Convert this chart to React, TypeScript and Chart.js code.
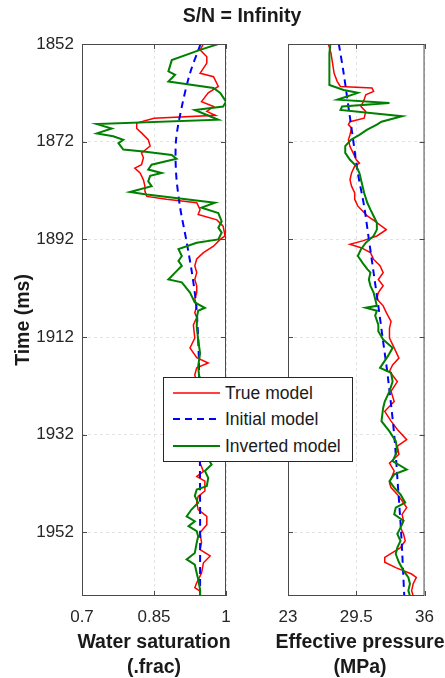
import React, { useEffect, useRef } from "react";
import { Chart, registerables } from "chart.js";

Chart.register(...registerables);

// ---------- labels ----------
const TITLE = "S/N = Infinity";
const Y_TITLE = "Time (ms)";
const SAT_TITLE = ["Water saturation", "(.frac)"];
const PRES_TITLE = ["Effective pressure", "(MPa)"];
const LEGEND_LABELS = ["True model", "Initial model", "Inverted model"];

// ---------- axes ----------
const TIME_MIN = 1852;
const TIME_MAX = 1965;
const TIME_TICKS = [1852, 1872, 1892, 1912, 1932, 1952];
const SAT_MIN = 0.7;
const SAT_MAX = 1;
const SAT_TICKS = [0.7, 0.85, 1];
const PRES_MIN = 23;
const PRES_MAX = 36;
const PRES_TICKS = [23, 29.5, 36];

// ---------- data: [time (ms), value] ----------
const SAT_TRUE: [number, number][] = [
  [1852, 0.953], [1853.2, 0.946], [1854.6, 0.96], [1855.9, 0.96], [1858, 0.946], [1858.7, 0.974],
  [1860.7, 0.984], [1862, 0.963], [1863.8, 0.949], [1864.8, 0.974], [1865.8, 0.96], [1866.6, 0.978],
  [1867.2, 0.85], [1868.2, 0.814], [1869.3, 0.814], [1870.2, 0.824], [1871.6, 0.838], [1872.9, 0.842],
  [1874.3, 0.824], [1875.3, 0.828], [1876.7, 0.824], [1877.4, 0.81], [1878.4, 0.821], [1879.8, 0.828],
  [1881.1, 0.831], [1882.1, 0.831], [1883.2, 0.835], [1883.8, 0.876], [1884.5, 0.939], [1885.9, 0.946],
  [1886.9, 0.942], [1888, 0.981], [1889.3, 0.994], [1891.3, 0.998], [1892, 0.988], [1893.4, 0.974],
  [1894.7, 0.953], [1896, 0.939], [1897.4, 0.935], [1898.8, 0.939], [1900.2, 0.935], [1901.5, 0.939],
  [1902.9, 0.939], [1904.2, 0.935], [1905.6, 0.939], [1907, 0.935], [1908, 0.939], [1909.5, 0.932],
  [1912.2, 0.935], [1914.2, 0.925], [1916.2, 0.939], [1917.3, 0.963], [1918.3, 0.939], [1919.7, 0.935],
  [1922, 0.94], [1925, 0.945], [1928, 0.94], [1931, 0.95], [1934, 0.945], [1936, 0.948],
  [1937.8, 0.946], [1939.5, 0.953], [1940.5, 0.939], [1941.5, 0.956], [1943.5, 0.956], [1944.6, 0.942],
  [1945.9, 0.939], [1947.3, 0.942], [1948.7, 0.96], [1950.4, 0.96], [1952, 0.946], [1954.1, 0.949],
  [1955.5, 0.946], [1956.8, 0.967], [1958.2, 0.953], [1960.3, 0.949], [1962.3, 0.939], [1963.3, 0.935],
  [1964, 0.946], [1965, 0.946],
];

const SAT_INIT: [number, number][] = [
  [1852, 0.947], [1858, 0.925], [1864.8, 0.908], [1871.6, 0.896], [1878.4, 0.896], [1885.2, 0.904],
  [1892, 0.917], [1898.8, 0.929], [1905.6, 0.938], [1915, 0.943], [1930, 0.945], [1945, 0.946],
  [1965, 0.946],
];

const SAT_INV: [number, number][] = [
  [1852, 0.984], [1853.2, 0.946], [1855.3, 0.887], [1857.6, 0.88], [1858.3, 0.894], [1859.7, 0.88],
  [1861, 0.974], [1862, 0.988], [1863.8, 1.0], [1864.8, 0.994], [1865.5, 0.935], [1867.5, 0.984],
  [1868.4, 0.731], [1869.3, 0.762], [1870.3, 0.731], [1870.9, 0.765], [1871.6, 0.786], [1872.3, 0.776],
  [1873.6, 0.786], [1874, 0.828], [1874.7, 0.887], [1875.5, 0.897], [1876.7, 0.845], [1877.7, 0.838],
  [1878.4, 0.866], [1879, 0.842], [1880.1, 0.838], [1881.1, 0.845], [1882.3, 0.8], [1882.8, 0.835],
  [1884.5, 0.977], [1885.5, 0.949], [1886.6, 0.984], [1888.3, 0.991], [1889.6, 0.984], [1890.6, 0.991],
  [1892, 0.984], [1892.7, 0.939], [1894, 0.901], [1895.4, 0.908], [1896.4, 0.901], [1897.4, 0.908],
  [1898.5, 0.897], [1900.2, 0.88], [1900.8, 0.908], [1902.9, 0.925], [1904.9, 0.935], [1906, 0.956],
  [1906.6, 0.942], [1907.6, 0.94], [1909.8, 0.939], [1912.5, 0.942], [1915.3, 0.946], [1918, 0.942],
  [1920, 0.944], [1923, 0.945], [1926, 0.942], [1929, 0.948], [1932, 0.944], [1935, 0.95],
  [1936.8, 0.962], [1938.1, 0.97], [1939.4, 0.956], [1940.8, 0.963], [1942.5, 0.96], [1943.2, 0.939],
  [1944.5, 0.935], [1945.9, 0.942], [1947.3, 0.928], [1948.7, 0.918], [1949.7, 0.935], [1950.7, 0.922],
  [1951.7, 0.939], [1952.8, 0.942], [1954.1, 0.939], [1956.2, 0.935], [1957.5, 0.918], [1958.6, 0.935],
  [1960.3, 0.939], [1961.6, 0.942], [1963.7, 0.946], [1965, 0.946],
];

const PRES_TRUE: [number, number][] = [
  [1852, 26.85], [1853.9, 27.09], [1855.9, 27.24], [1858, 27.39], [1859.7, 27.69], [1860.7, 27.99],
  [1861, 31.0], [1861.7, 31.15], [1862.4, 30.4], [1863.4, 30.25], [1864.8, 29.95], [1865.8, 30.4],
  [1867.2, 30.25], [1867.9, 28.9], [1868.5, 28.75], [1869.2, 29.05], [1870.6, 28.9], [1871.6, 28.75],
  [1873, 28.9], [1874.3, 29.2], [1875.7, 29.5], [1876.4, 29.8], [1877, 29.35], [1878.4, 29.05],
  [1879.8, 28.9], [1881.1, 29.05], [1882.5, 29.35], [1883.8, 29.35], [1885.2, 29.65], [1886.2, 30.1],
  [1887.2, 30.55], [1888.3, 31.3], [1890, 32.36], [1891.3, 31.46], [1892.3, 30.1], [1893, 28.9],
  [1893.7, 29.95], [1894.7, 30.85], [1896.1, 31.15], [1897.4, 31.76], [1898.8, 32.06], [1900.2, 31.6],
  [1901.5, 32.06], [1902.9, 31.6], [1904.2, 31.46], [1905.6, 32.06], [1907, 32.36], [1908.8, 32.81],
  [1910.2, 32.66], [1912.2, 32.66], [1914.2, 33.11], [1916.3, 33.56], [1917.7, 32.96], [1919, 32.66],
  [1921.1, 33.41], [1923.1, 32.81], [1925.2, 33.11], [1927.2, 32.21], [1929.2, 32.81], [1930.9, 33.41],
  [1933, 34.3], [1934.3, 33.41], [1936, 33.56], [1937.8, 32.66], [1939.4, 33.11], [1941.8, 32.66],
  [1942.8, 32.81], [1944.2, 33.41], [1945.5, 33.86], [1946.9, 34.3], [1948.3, 33.86], [1949.6, 34.0],
  [1951, 33.71], [1952.3, 34.0], [1953.7, 34.16], [1955.1, 33.71], [1957.1, 32.21], [1958.1, 32.21],
  [1959.2, 33.26], [1960.5, 34.77], [1961.2, 35.22], [1962.5, 34.92], [1963.9, 34.77], [1965, 34.92],
];

const PRES_INIT: [number, number][] = [
  [1852, 27.84], [1858, 28.3], [1864.8, 28.75], [1871.6, 29.2], [1878.4, 29.65], [1885.2, 30.25],
  [1892, 30.7], [1898.8, 31.15], [1905.6, 31.6], [1912, 32.0], [1920, 32.5], [1932, 33.11],
  [1942, 33.45], [1952, 33.77], [1965, 34.07],
];

const PRES_INV: [number, number][] = [
  [1852, 27.03], [1853.9, 26.94], [1856, 26.94], [1858, 26.94], [1860.4, 26.94], [1861.4, 28.3],
  [1862, 29.65], [1863.4, 27.7], [1864.1, 32.66], [1864.8, 28.15], [1865.5, 28.0], [1866.8, 33.86],
  [1867.9, 31.9], [1868.5, 31.46], [1869.6, 30.5], [1870.6, 29.8], [1871.6, 29.0], [1872.9, 28.45],
  [1874.3, 28.45], [1875.7, 28.9], [1877, 29.5], [1878.4, 29.8], [1879.8, 29.95], [1881.1, 30.1],
  [1882.5, 30.25], [1884.5, 30.55], [1885.9, 30.85], [1887.2, 31.15], [1888.6, 31.46], [1890, 31.46],
  [1891.3, 31.15], [1892.7, 30.4], [1894, 29.95], [1895.4, 29.65], [1896.8, 30.1], [1898.1, 30.55],
  [1898.8, 30.85], [1900.2, 30.7], [1901.5, 30.85], [1902.9, 31.15], [1904.2, 31.3], [1905.6, 31.46],
  [1906, 30.4], [1906.6, 31.46], [1907.6, 31.3], [1909.5, 31.6], [1910.8, 31.6], [1912.5, 32.06],
  [1914.2, 32.96], [1915.9, 32.51], [1918.3, 31.76], [1919.3, 32.81], [1921.1, 32.96], [1923.1, 32.66],
  [1925.2, 32.21], [1926.5, 32.06], [1929.2, 31.9], [1931.3, 32.66], [1933.3, 33.26], [1935.3, 33.41],
  [1937.4, 32.96], [1939.1, 34.3], [1940.1, 33.11], [1941.5, 32.66], [1942.8, 33.11], [1944.2, 33.71],
  [1945.9, 34.16], [1946.9, 33.26], [1948.3, 33.11], [1949.6, 34.0], [1951, 33.71], [1952.3, 33.41],
  [1953.7, 33.71], [1955.1, 33.41], [1956.4, 33.26], [1958.1, 33.56], [1959.8, 34.0], [1961.2, 34.46],
  [1962.5, 34.61], [1963.9, 34.46], [1965, 34.61],
];

// ---------- styles ----------
const FONT = '"Liberation Sans", Arial, Helvetica, sans-serif';
const RED = "#ff0000";
const BLUE = "#0000ff";
const GREEN = "#008000";
const TEXT = "#262626";
const FRAME = "#4a4a4a";
const GRID = "#e2e2e2";
const W = 445;
const H = 678;

const toPoints = (pairs: [number, number][]) => pairs.map(([t, v]) => ({ x: v, y: t }));

const framePlugin = {
  id: "matlabFrame",
  afterDatasetsDraw(chart: any) {
    const { ctx, chartArea: a, scales } = chart;
    ctx.save();
    ctx.strokeStyle = FRAME;
    ctx.lineWidth = 1;
    ctx.setLineDash([]);
    ctx.strokeRect(a.left + 0.5, a.top + 0.5, a.right - a.left - 1, a.bottom - a.top - 1);
    const L = 5;
    ctx.beginPath();
    scales.x.ticks.forEach((t: any) => {
      const px = Math.round(scales.x.getPixelForValue(t.value)) + 0.5;
      ctx.moveTo(px, a.top);
      ctx.lineTo(px, a.top + L);
      ctx.moveTo(px, a.bottom);
      ctx.lineTo(px, a.bottom - L);
    });
    scales.y.ticks.forEach((t: any) => {
      const py = Math.round(scales.y.getPixelForValue(t.value)) + 0.5;
      ctx.moveTo(a.left, py);
      ctx.lineTo(a.left + L, py);
      ctx.moveTo(a.right, py);
      ctx.lineTo(a.right - L, py);
    });
    ctx.stroke();
    ctx.restore();
  },
};

function makeConfig(p: {
  truth: [number, number][];
  init: [number, number][];
  inv: [number, number][];
  xMin: number;
  xMax: number;
  xTicks: number[];
  showY: boolean;
  padLeft: number;
  padRight: number;
  yWidth: number;
}): any {
  return {
    type: "scatter",
    data: {
      datasets: [
        {
          label: LEGEND_LABELS[2],
          data: toPoints(p.inv),
          borderColor: GREEN,
          backgroundColor: GREEN,
          borderWidth: 2,
          showLine: true,
          pointRadius: 0,
          tension: 0,
        },
        {
          label: LEGEND_LABELS[1],
          data: toPoints(p.init),
          borderColor: BLUE,
          backgroundColor: BLUE,
          borderWidth: 2,
          borderDash: [7, 5],
          showLine: true,
          pointRadius: 0,
          tension: 0.3,
        },
        {
          label: LEGEND_LABELS[0],
          data: toPoints(p.truth),
          borderColor: RED,
          backgroundColor: RED,
          borderWidth: 1.5,
          showLine: true,
          pointRadius: 0,
          tension: 0,
        },
      ],
    },
    options: {
      responsive: false,
      animation: false,
      events: [],
      layout: { padding: { left: p.padLeft, right: p.padRight, top: 44, bottom: 0 } },
      plugins: {
        legend: { display: false },
        tooltip: { enabled: false },
        title: { display: false },
      },
      scales: {
        x: {
          type: "linear",
          position: "bottom",
          min: p.xMin,
          max: p.xMax,
          afterBuildTicks: (s: any) => {
            s.ticks = p.xTicks.map((v) => ({ value: v }));
          },
          afterFit: (s: any) => {
            s.height = 82;
          },
          ticks: {
            padding: 11,
            color: TEXT,
            font: { family: FONT, size: 17 },
            maxRotation: 0,
            autoSkip: false,
            callback: (v: any) => String(v),
          },
          grid: { color: GRID, drawTicks: false, lineWidth: 1 },
          border: { display: false, dash: [3, 3] },
        },
        y: {
          type: "linear",
          position: "left",
          reverse: true,
          min: TIME_MIN,
          max: TIME_MAX,
          afterBuildTicks: (s: any) => {
            s.ticks = TIME_TICKS.map((v) => ({ value: v }));
          },
          afterFit: (s: any) => {
            s.width = p.yWidth;
          },
          ticks: {
            display: p.showY,
            padding: 8,
            color: TEXT,
            font: { family: FONT, size: 17 },
            autoSkip: false,
            callback: (v: any) => String(v),
          },
          grid: { color: GRID, drawTicks: false, lineWidth: 1 },
          border: { display: false, dash: [3, 3] },
        },
      },
    },
    plugins: [framePlugin],
  };
}

function LegendRow({ label, color, dash, width, top }: { label: string; color: string; dash?: string; width: number; top: number }) {
  return (
    <div style={{ position: "absolute", left: 0, top, height: 26, width: "100%" }}>
      <svg width={50} height={26} style={{ position: "absolute", left: 8, top: 0 }}>
        <line x1={1} y1={13} x2={48} y2={13} stroke={color} strokeWidth={width} strokeDasharray={dash} />
      </svg>
      <span
        style={{
          position: "absolute",
          left: 61,
          top: 0,
          lineHeight: "26px",
          fontSize: 17.5,
          color: "#1a1a1a",
          whiteSpace: "nowrap",
        }}
      >
        {label}
      </span>
    </div>
  );
}

export default function App() {
  const leftRef = useRef<HTMLCanvasElement | null>(null);
  const rightRef = useRef<HTMLCanvasElement | null>(null);

  useEffect(() => {
    const left = new Chart(
      leftRef.current as HTMLCanvasElement,
      makeConfig({
        truth: SAT_TRUE,
        init: SAT_INIT,
        inv: SAT_INV,
        xMin: SAT_MIN,
        xMax: SAT_MAX,
        xTicks: SAT_TICKS,
        showY: true,
        padLeft: 0,
        padRight: W - 226,
        yWidth: 82,
      })
    );
    const right = new Chart(
      rightRef.current as HTMLCanvasElement,
      makeConfig({
        truth: PRES_TRUE,
        init: PRES_INIT,
        inv: PRES_INV,
        xMin: PRES_MIN,
        xMax: PRES_MAX,
        xTicks: PRES_TICKS,
        showY: false,
        padLeft: 288,
        padRight: W - 432,
        yWidth: 0,
      })
    );
    return () => {
      left.destroy();
      right.destroy();
    };
  }, []);

  const titleStyle: React.CSSProperties = {
    position: "absolute",
    fontFamily: FONT,
    fontWeight: "bold",
    fontSize: 19.5,
    color: "#1a1a1a",
    textAlign: "center",
    whiteSpace: "nowrap",
  };

  return (
    <div
      style={{
        position: "absolute",
        left: 0,
        top: 0,
        width: W,
        height: H,
        background: "#fff",
        overflow: "hidden",
        fontFamily: FONT,
      }}
    >
      <canvas ref={leftRef} width={W} height={H} style={{ position: "absolute", left: 0, top: 0, width: W, height: H }} />
      <canvas ref={rightRef} width={W} height={H} style={{ position: "absolute", left: 0, top: 0, width: W, height: H }} />

      <div style={{ ...titleStyle, left: 142, top: 3, width: 200, lineHeight: "24px" }}>{TITLE}</div>

      <div
        style={{
          ...titleStyle,
          left: 22 - 100,
          top: 320 - 12,
          width: 200,
          height: 24,
          lineHeight: "24px",
          transform: "rotate(-90deg)",
        }}
      >
        {Y_TITLE}
      </div>

      <div style={{ ...titleStyle, left: 154 - 100, top: 628.5, width: 200, lineHeight: "25px" }}>
        {SAT_TITLE[0]}
        <br />
        {SAT_TITLE[1]}
      </div>
      <div style={{ ...titleStyle, left: 360 - 100, top: 628.5, width: 200, lineHeight: "25px" }}>
        {PRES_TITLE[0]}
        <br />
        {PRES_TITLE[1]}
      </div>

      <div
        style={{
          position: "absolute",
          left: 163,
          top: 377,
          width: 190,
          height: 85,
          boxSizing: "border-box",
          border: "1px solid #262626",
          background: "#fff",
          fontFamily: FONT,
        }}
      >
        <LegendRow label={LEGEND_LABELS[0]} color={RED} width={1.5} top={1.7} />
        <LegendRow label={LEGEND_LABELS[1]} color={BLUE} width={2} dash="7 5" top={28.3} />
        <LegendRow label={LEGEND_LABELS[2]} color={GREEN} width={2} top={55} />
      </div>
    </div>
  );
}
